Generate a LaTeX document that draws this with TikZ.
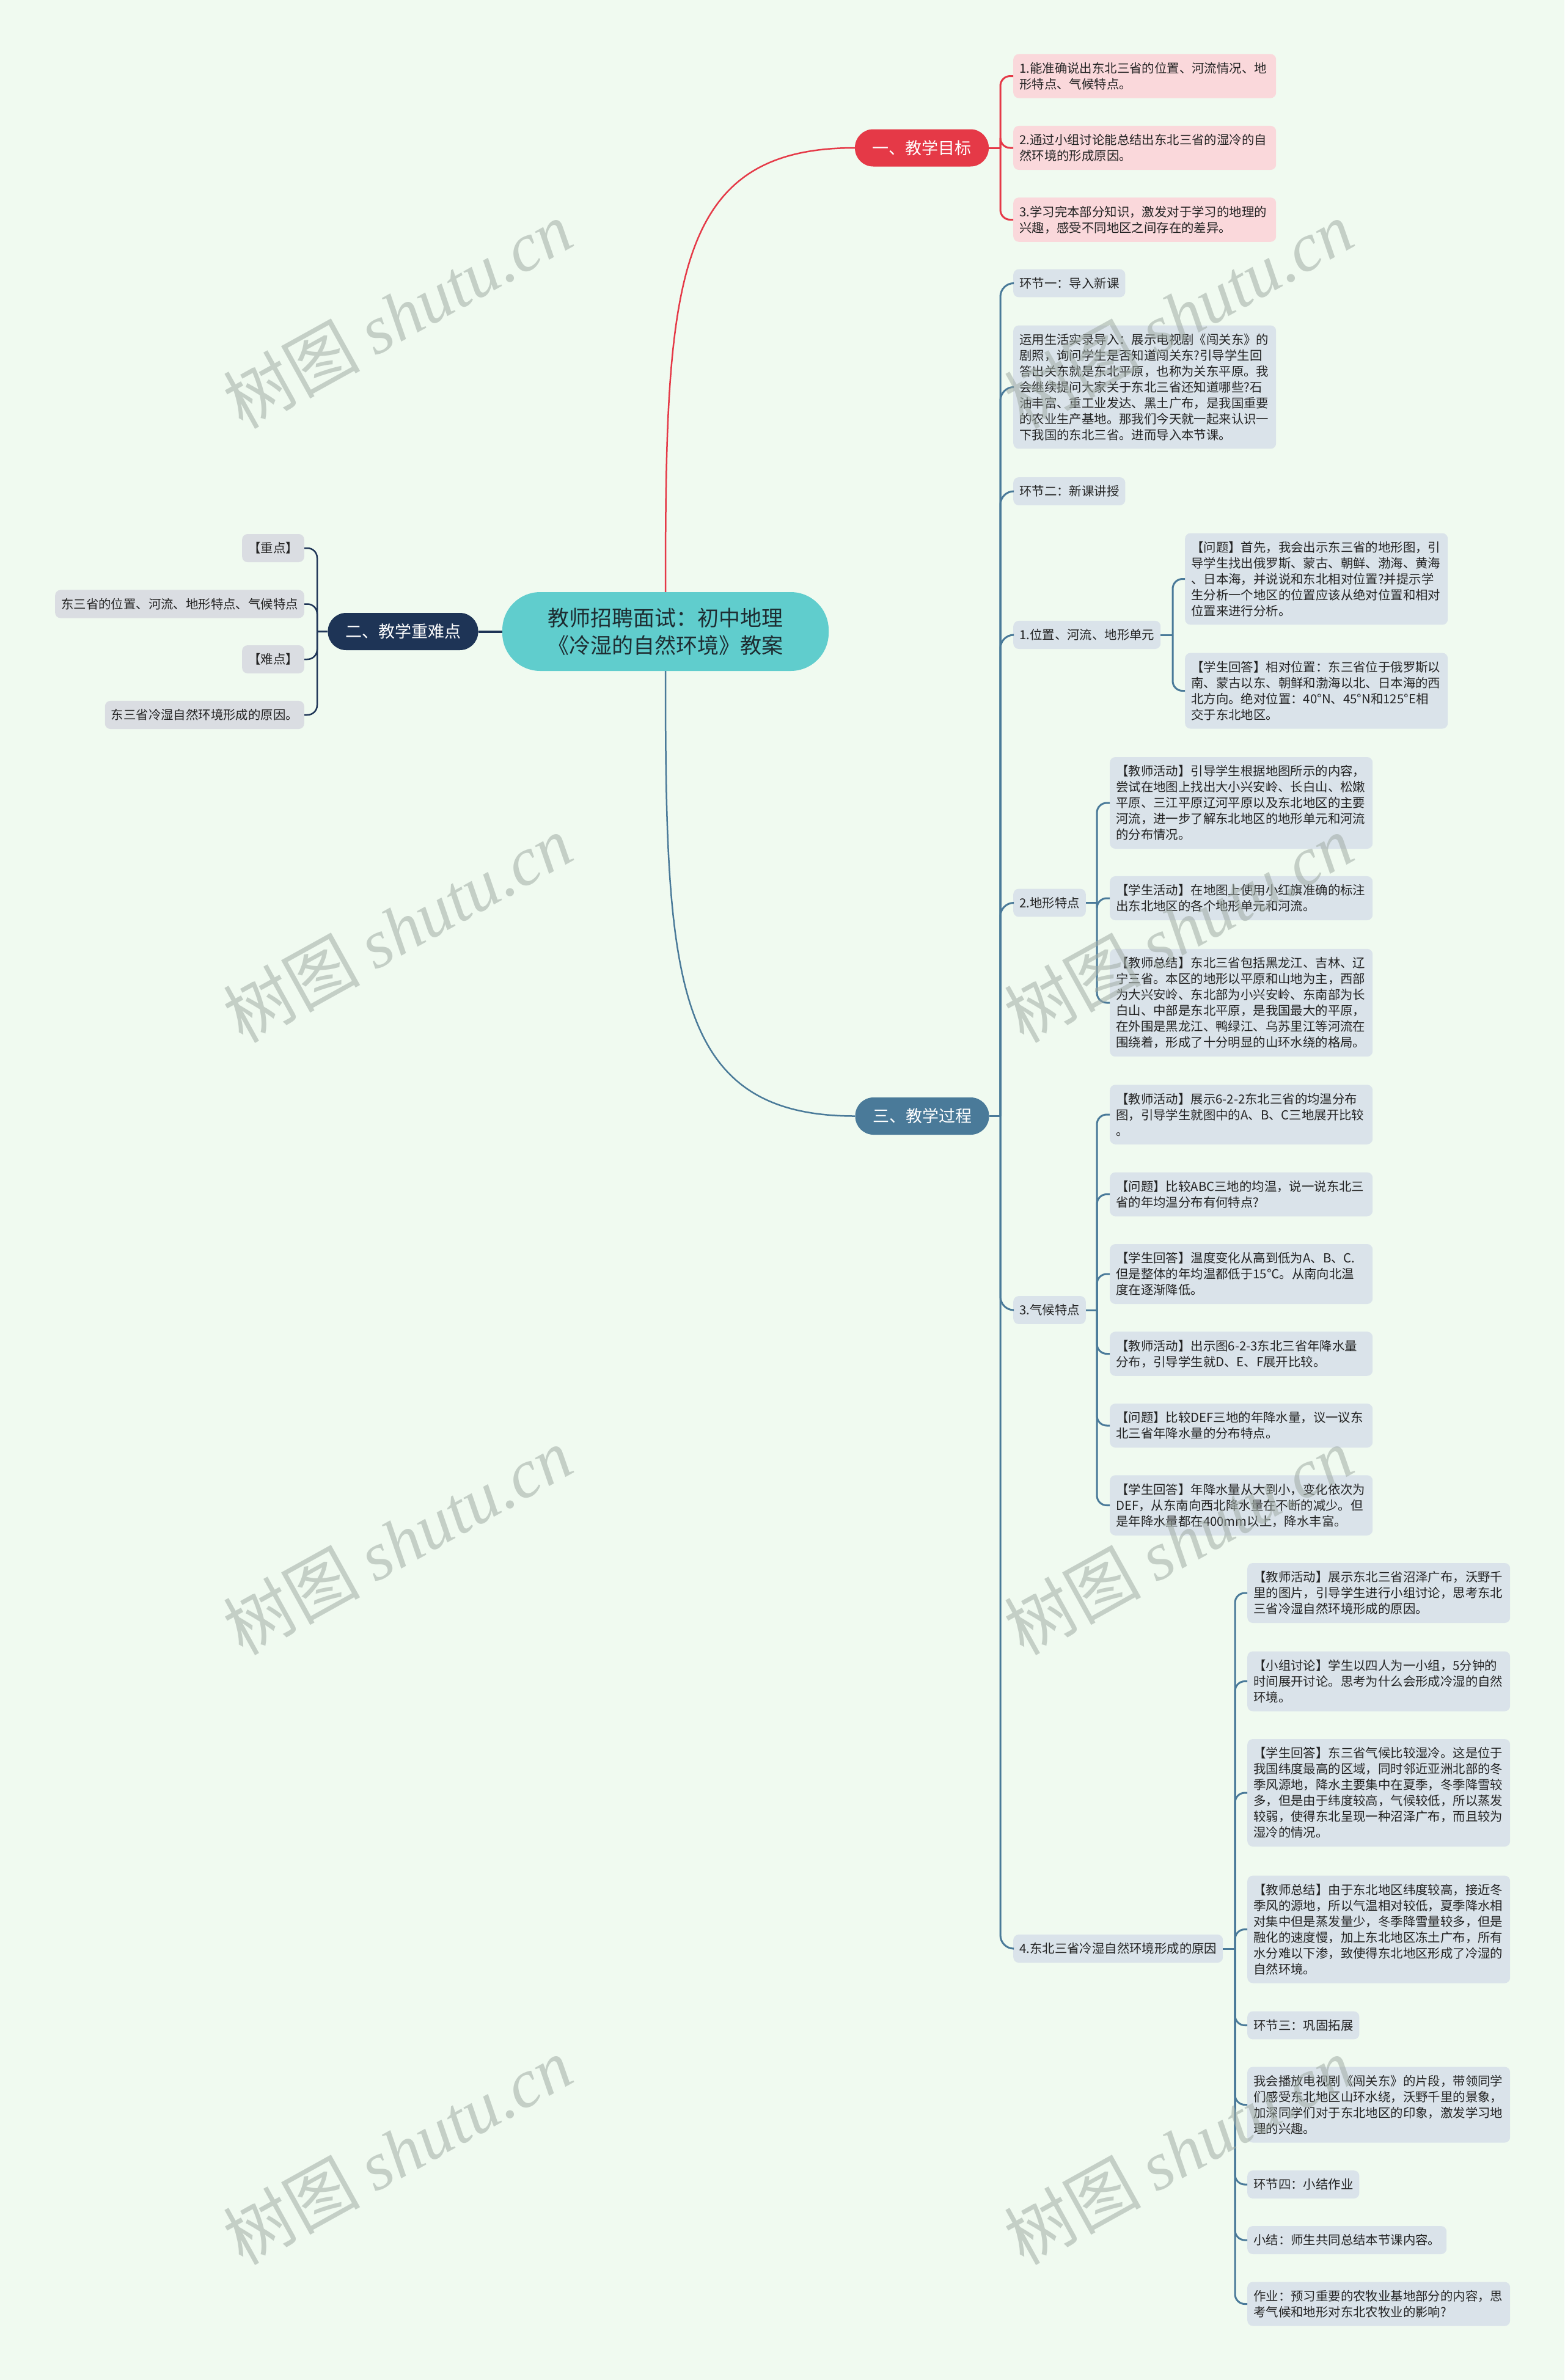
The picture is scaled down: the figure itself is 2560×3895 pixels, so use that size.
\documentclass[tikz,border=0pt]{standalone}
\usepackage{fontspec}
\setmainfont{Noto Sans CJK SC}
\newfontfamily\wmserif{Liberation Serif}
\usetikzlibrary{calc}
\definecolor{bg}{RGB}{240,250,240}
\definecolor{redc}{RGB}{229,57,71}
\definecolor{pinkfill}{RGB}{250,216,219}
\definecolor{bluec}{RGB}{74,122,153}
\definecolor{bluefill}{RGB}{218,227,234}
\definecolor{navyc}{RGB}{30,52,86}
\definecolor{grayfill}{RGB}{218,221,226}
\definecolor{tealc}{RGB}{96,205,205}
\definecolor{txt}{RGB}{35,35,35}
\definecolor{roottxt}{RGB}{30,45,50}
\definecolor{wmc}{RGB}{160,172,165}
\tikzset{
  base/.style={rounded corners=9pt, inner xsep=10pt, inner ysep=13.5pt,
    font=\fontsize{20.4}{26}\selectfont, text=txt, align=left},
  pinkleaf/.style={base, fill=pinkfill, text width=410pt, anchor=west},
  leaf/.style={base, fill=bluefill, anchor=west},
  wide/.style={leaf, text width=410pt},
  lleaf/.style={base, fill=grayfill, anchor=east},
  mainst/.style={rounded corners=30pt, minimum height=61pt, inner xsep=28.5pt,
    font=\fontsize{27}{32}\selectfont, text=white},
  rootst/.style={rounded corners=62pt, fill=tealc, minimum width=534pt, minimum height=129pt,
    font=\fontsize{35}{45}\selectfont, text=roottxt, align=center},
  redline/.style={draw=redc, line width=3pt},
  blueline/.style={draw=bluec, line width=3pt},
  navyline/.style={draw=navyc, line width=2.5pt},
  brk/.style={rounded corners=16pt},
  wm/.style={text=wmc, opacity=0.55, font=\fontsize{112}{120}\selectfont, rotate=29}
}
\begin{document}
\begin{tikzpicture}[x=1pt,y=-1pt]
\useasboundingbox (0,0) rectangle (2560,3895);
\fill[bg] (0,0) rectangle (2560,3895);

% root and main topics
\node[rootst] (root) at (1089,1033.5) {教师招聘面试：初中地理\\《冷湿的自然环境》教案};
\node[mainst, fill=redc] (t1) at (1508.5,242) {一、教学目标};
\node[mainst, fill=navyc] (t2) at (659.5,1033.5) {二、教学重难点};
\node[mainst, fill=bluec] (t3) at (1509,1826.5) {三、教学过程};

\draw[redline, line width=2.5pt] (root.north) .. controls (1089,467) and (1100,242) .. (t1.west);
\draw[blueline, line width=2.5pt] (root.south) .. controls (1089,1600) and (1100,1826.5) .. (t3.west);
\draw[navyline, line width=4pt] (root.west) -- (t2.east);

% branch 1
\node[pinkleaf] (r1) at (1658,124.5) {1.能准确说出东北三省的位置、河流情况、地\\形特点、气候特点。};
\node[pinkleaf] (r2) at (1658,242) {2.通过小组讨论能总结出东北三省的湿冷的自\\然环境的形成原因。};
\node[pinkleaf] (r3) at (1658,359.5) {3.学习完本部分知识，激发对于学习的地理的\\兴趣，感受不同地区之间存在的差异。};
\coordinate (j1) at (1637,242);
\draw[redline] (t1.east) -- (j1);
\foreach \n in {r1,r2,r3} \draw[redline, brk] (j1) |- (\n.west);

% branch 2
\node[lleaf] (l1) at (498,897) {【重点】};
\node[lleaf] (l2) at (498,988.5) {东三省的位置、河流、地形特点、气候特点};
\node[lleaf] (l3) at (498,1079) {【难点】};
\node[lleaf] (l4) at (498,1170) {东三省冷湿自然环境形成的原因。};
\coordinate (j2) at (519,1033.5);
\draw[navyline] (t2.west) -- (j2);
\foreach \n in {l1,l2,l3,l4} \draw[navyline, brk] (j2) |- (\n.east);

% branch 3, level 2
\node[leaf] (b1) at (1658,463.5) {环节一：导入新课};
\node[wide] (b2) at (1658,633.5) {运用生活实录导入：展示电视剧《闯关东》的\\剧照，询问学生是否知道闯关东?引导学生回\\答出关东就是东北平原，也称为关东平原。我\\会继续提问大家关于东北三省还知道哪些?石\\油丰富、重工业发达、黑土广布，是我国重要\\的农业生产基地。那我们今天就一起来认识一\\下我国的东北三省。进而导入本节课。};
\node[leaf] (b3) at (1658,804) {环节二：新课讲授};
\node[leaf] (b4) at (1658,1039) {1.位置、河流、地形单元};
\node[leaf] (b5) at (1658,1477.5) {2.地形特点};
\node[leaf] (b6) at (1658,2144) {3.气候特点};
\node[leaf] (b7) at (1658,3189) {4.东北三省冷湿自然环境形成的原因};
\coordinate (j3) at (1637,1826.5);
\draw[blueline] (t3.east) -- (j3);
\foreach \n in {b1,b2,b3,b4,b5,b6,b7} \draw[blueline, rounded corners=22pt] (j3) |- (\n.west);

% 1. children
\node[wide] (a1) at (1939,947.5) {【问题】首先，我会出示东三省的地形图，引\\导学生找出俄罗斯、蒙古、朝鲜、渤海、黄海\\、日本海，并说说和东北相对位置?并提示学\\生分析一个地区的位置应该从绝对位置和相对\\位置来进行分析。};
\node[wide] (a2) at (1939,1130.5) {【学生回答】相对位置：东三省位于俄罗斯以\\南、蒙古以东、朝鲜和渤海以北、日本海的西\\北方向。绝对位置：40°N、45°N和125°E相\\交于东北地区。};
\coordinate (ja) at (1919,1039);
\draw[blueline] (b4.east) -- (ja);
\foreach \n in {a1,a2} \draw[blueline, brk] (ja) |- (\n.west);

% 2. children
\node[wide] (c1) at (1816,1314) {【教师活动】引导学生根据地图所示的内容，\\尝试在地图上找出大小兴安岭、长白山、松嫩\\平原、三江平原辽河平原以及东北地区的主要\\河流，进一步了解东北地区的地形单元和河流\\的分布情况。};
\node[wide] (c2) at (1816,1470) {【学生活动】在地图上使用小红旗准确的标注\\出东北地区的各个地形单元和河流。};
\node[wide] (c3) at (1816,1641) {【教师总结】东北三省包括黑龙江、吉林、辽\\宁三省。本区的地形以平原和山地为主，西部\\为大兴安岭、东北部为小兴安岭、东南部为长\\白山、中部是东北平原，是我国最大的平原，\\在外围是黑龙江、鸭绿江、乌苏里江等河流在\\围绕着，形成了十分明显的山环水绕的格局。};
\coordinate (jb) at (1795,1477.5);
\draw[blueline] (b5.east) -- (jb);
\foreach \n in {c1,c2,c3} \draw[blueline, brk] (jb) |- (\n.west);

% 3. children
\node[wide] (d1) at (1816,1824) {【教师活动】展示6-2-2东北三省的均温分布\\图，引导学生就图中的A、B、C三地展开比较\\。};
\node[wide] (d2) at (1816,1954.5) {【问题】比较ABC三地的均温，说一说东北三\\省的年均温分布有何特点?};
\node[wide] (d3) at (1816,2085) {【学生回答】温度变化从高到低为A、B、C.\\但是整体的年均温都低于15℃。从南向北温\\度在逐渐降低。};
\node[wide] (d4) at (1816,2215.5) {【教师活动】出示图6-2-3东北三省年降水量\\分布，引导学生就D、E、F展开比较。};
\node[wide] (d5) at (1816,2333) {【问题】比较DEF三地的年降水量，议一议东\\北三省年降水量的分布特点。};
\node[wide] (d6) at (1816,2463.5) {【学生回答】年降水量从大到小，变化依次为\\DEF，从东南向西北降水量在不断的减少。但\\是年降水量都在400mm以上，降水丰富。};
\coordinate (jc) at (1795,2144);
\draw[blueline] (b6.east) -- (jc);
\foreach \n in {d1,d2,d3,d4,d5,d6} \draw[blueline, brk] (jc) |- (\n.west);

% 4. children
\node[wide] (e1) at (2041,2607) {【教师活动】展示东北三省沼泽广布，沃野千\\里的图片，引导学生进行小组讨论，思考东北\\三省冷湿自然环境形成的原因。};
\node[wide] (e2) at (2041,2751.5) {【小组讨论】学生以四人为一小组，5分钟的\\时间展开讨论。思考为什么会形成冷湿的自然\\环境。};
\node[wide] (e3) at (2041,2934) {【学生回答】东三省气候比较湿冷。这是位于\\我国纬度最高的区域，同时邻近亚洲北部的冬\\季风源地，降水主要集中在夏季，冬季降雪较\\多，但是由于纬度较高，气候较低，所以蒸发\\较弱，使得东北呈现一种沼泽广布，而且较为\\湿冷的情况。};
\node[wide] (e4) at (2041,3157.5) {【教师总结】由于东北地区纬度较高，接近冬\\季风的源地，所以气温相对较低，夏季降水相\\对集中但是蒸发量少，冬季降雪量较多，但是\\融化的速度慢，加上东北地区冻土广布，所有\\水分难以下渗，致使得东北地区形成了冷湿的\\自然环境。};
\node[leaf] (e5) at (2041,3314.5) {环节三：巩固拓展};
\node[wide] (e6) at (2041,3444.5) {我会播放电视剧《闯关东》的片段，带领同学\\们感受东北地区山环水绕，沃野千里的景象，\\加深同学们对于东北地区的印象，激发学习地\\理的兴趣。};
\node[leaf] (e7) at (2041,3575) {环节四：小结作业};
\node[leaf] (e8) at (2041,3666) {小结：师生共同总结本节课内容。};
\node[wide] (e9) at (2041,3770.5) {作业：预习重要的农牧业基地部分的内容，思\\考气候和地形对东北农牧业的影响?};
\coordinate (jd) at (2021,3189);
\draw[blueline] (b7.east) -- (jd);
\foreach \n in {e1,e2,e3,e4,e5,e6,e7,e8,e9} \draw[blueline, brk] (jd) |- (\n.west);

% watermarks
\foreach \wx in {650,1928} {
  \foreach \wy in {515,1520,2522,3520} {
    \node[wm] at (\wx,\wy) {树图 {\wmserif\itshape shutu.cn}};
  }
}
\end{tikzpicture}
\end{document}
